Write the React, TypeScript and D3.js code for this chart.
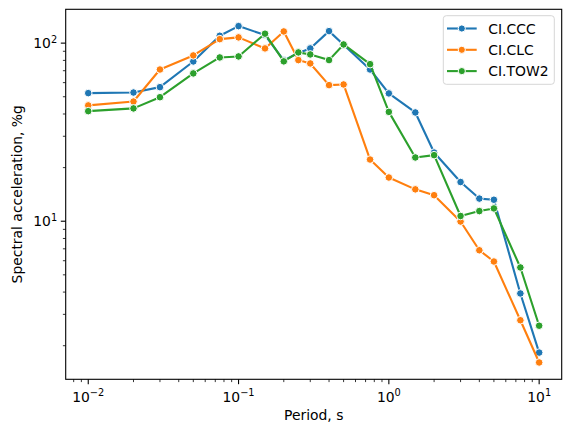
import React from 'react';
import * as d3 from 'd3';

const periods = [0.01, 0.02, 0.03, 0.05, 0.075, 0.1, 0.15, 0.2, 0.25, 0.3, 0.4, 0.5, 0.75, 1, 1.5, 2, 3, 4, 5, 7.5, 10];
const stationNames = ['CI.CCC', 'CI.CLC', 'CI.TOW2'];
const cccValues = [52.4, 52.8, 56.6, 78.9, 110, 124.6, 111, 80, 88, 93.4, 116.8, 98, 71.1, 52.2, 40.8, 24.3, 16.6, 13.4, 13.2, 3.93, 1.83];
const clcValues = [44.7, 47.0, 71.1, 85.3, 105.3, 107.7, 93.4, 116.3, 80.3, 76.9, 58.1, 58.6, 22.2, 17.6, 15.1, 14.0, 9.96, 6.87, 5.94, 2.78, 1.61];
const tow2Values = [41.5, 43.0, 49.7, 67.6, 83.1, 84.2, 113, 79, 88.7, 86.4, 80.3, 98.3, 76.2, 41.1, 22.8, 23.5, 10.7, 11.4, 11.8, 5.5, 2.59];
const xTickExps = [-2, -1, 0, 1];
const yTickExps = [1, 2];

const colors = ['#1f77b4', '#ff7f0e', '#2ca02c'];
const font = 'DejaVu Sans, sans-serif';
const fs = 13.9;

// matplotlib-style 5% padding in log space
const padLog = (vals: number[]) => {
  const [lo, hi] = d3.extent(vals.map(Math.log10)) as [number, number];
  const m = (hi - lo) * 0.05;
  return [Math.pow(10, lo - m), Math.pow(10, hi + m)];
};

export default function App() {
  const plot = { left: 65.7, right: 561.7, top: 9.3, bottom: 379.3 };
  const series = [cccValues, clcValues, tow2Values];

  const x = d3.scaleLog().domain(padLog(periods)).range([plot.left, plot.right]);
  const y = d3.scaleLog().domain(padLog([...cccValues, ...clcValues, ...tow2Values])).range([plot.bottom, plot.top]);

  const line = d3.line<[number, number]>().x((d) => x(d[0])).y((d) => y(d[1]));

  const minor = (scale: d3.ScaleLogarithmic<number, number>) => {
    const [a, b] = scale.domain();
    const out: number[] = [];
    for (let e = Math.floor(Math.log10(a)); e <= Math.ceil(Math.log10(b)); e++) {
      for (let k = 2; k <= 9; k++) {
        const v = k * Math.pow(10, e);
        if (v >= a && v <= b) out.push(v);
      }
    }
    return out;
  };

  const sup = (e: number) => (e < 0 ? '\u2212' + Math.abs(e) : String(e));

  return (
    <div style={{ position: 'absolute', left: 0, top: 0 }}>
      <svg width={570} height={435} style={{ display: 'block', background: '#fff' }} fontFamily={font}>
        {/* minor ticks */}
        {minor(x).map((v, i) => (
          <line key={'xm' + i} x1={x(v)} x2={x(v)} y1={plot.bottom} y2={plot.bottom + 2.8} stroke="#000" strokeWidth={0.8} />
        ))}
        {minor(y).map((v, i) => (
          <line key={'ym' + i} x1={plot.left} x2={plot.left - 2.8} y1={y(v)} y2={y(v)} stroke="#000" strokeWidth={0.8} />
        ))}
        {/* major ticks */}
        {xTickExps.map((e) => {
          const px = x(Math.pow(10, e));
          return (
            <g key={'x' + e}>
              <line x1={px} x2={px} y1={plot.bottom} y2={plot.bottom + 4.9} stroke="#000" strokeWidth={1.1} />
              <text x={px} y={plot.bottom + 22.4} fontSize={fs} textAnchor="middle" fill="#000">
                10<tspan dy={-5.5} fontSize={9.8}>{sup(e)}</tspan>
              </text>
            </g>
          );
        })}
        {yTickExps.map((e) => {
          const py = y(Math.pow(10, e));
          return (
            <g key={'y' + e}>
              <line x1={plot.left} x2={plot.left - 4.9} y1={py} y2={py} stroke="#000" strokeWidth={1.1} />
              <text x={plot.left - 8.5} y={py + 5} fontSize={fs} textAnchor="end" fill="#000">
                10<tspan dy={-5.5} fontSize={9.8}>{sup(e)}</tspan>
              </text>
            </g>
          );
        })}

        {/* series */}
        {series.map((vals, s) => (
          <g key={'s' + s}>
            <path d={line(periods.map((p, i) => [p, vals[i]]))!} fill="none" stroke={colors[s]} strokeWidth={2.1} strokeLinejoin="round" strokeLinecap="round" />
            {periods.map((p, i) => (
              <circle key={i} cx={x(p)} cy={y(vals[i])} r={3.8} fill={colors[s]} stroke="#fff" strokeWidth={1} />
            ))}
          </g>
        ))}

        {/* frame */}
        <rect x={plot.left} y={plot.top} width={plot.right - plot.left} height={plot.bottom - plot.top} fill="none" stroke="#000" strokeWidth={1.1} />

        {/* axis labels */}
        <text x={(plot.left + plot.right) / 2} y={420} fontSize={fs} textAnchor="middle" fill="#000">Period, s</text>
        <text transform={`translate(22,${(plot.top + plot.bottom) / 2}) rotate(-90)`} fontSize={fs} textAnchor="middle" fill="#000">
          Spectral acceleration, %g
        </text>

        {/* legend */}
        <g>
          <rect x={443.3} y={15.7} width={111} height={68.6} rx={3} fill="#fff" fillOpacity={0.8} stroke="#d6d6d6" strokeWidth={1} />
          {stationNames.map((name, i) => {
            const cy = 28.5 + i * 21.3;
            return (
              <g key={name}>
                <line x1={447} x2={476.7} y1={cy} y2={cy} stroke={colors[i]} strokeWidth={2.1} />
                <circle cx={461.8} cy={cy} r={3.6} fill={colors[i]} stroke="#fff" strokeWidth={1} />
                <text x={488.3} y={cy + 5} fontSize={fs} fill="#000">{name}</text>
              </g>
            );
          })}
        </g>
      </svg>
    </div>
  );
}
